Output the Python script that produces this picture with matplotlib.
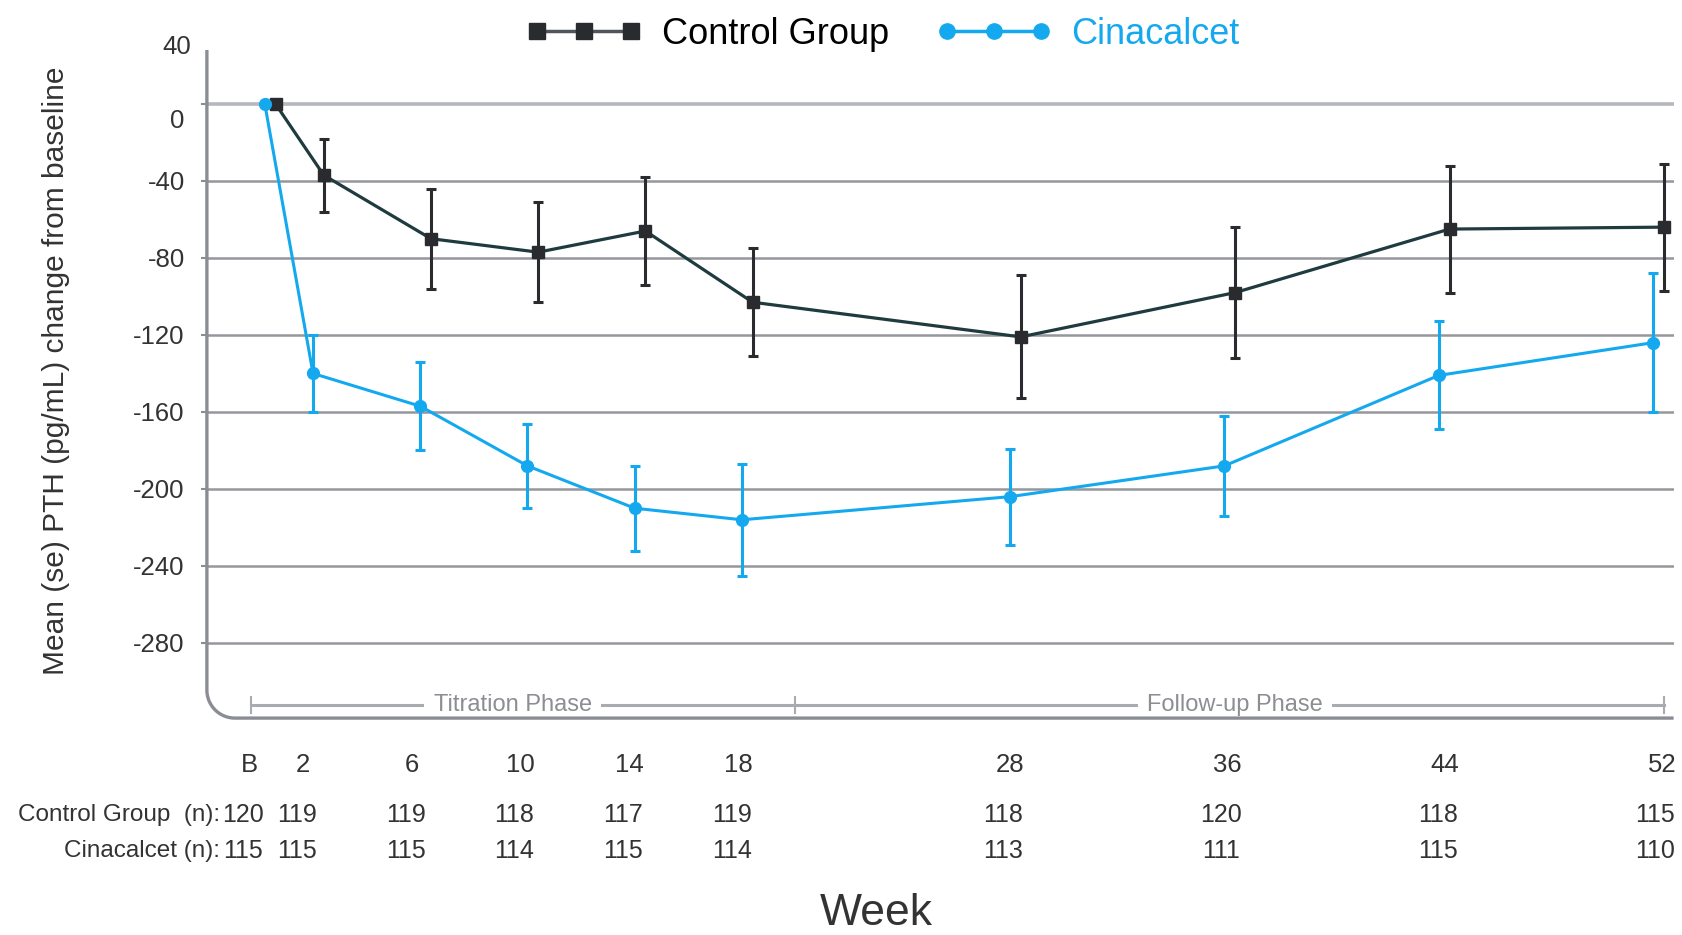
import numpy as np
import matplotlib
matplotlib.use("Agg")
import matplotlib.pyplot as plt
import matplotlib.transforms as mtransforms
from matplotlib.lines import Line2D

plt.rcParams['font.family'] = ['Liberation Sans Narrow', 'Liberation Sans', 'DejaVu Sans']

# ---------------- data ----------------
weeks = [0, 2, 6, 10, 14, 18, 28, 36, 44, 52]
week_labels = ["B", "2", "6", "10", "14", "18", "28", "36", "44", "52"]
control_mean = [0, -37, -70, -77, -66, -103, -121, -98, -65, -64]
control_se = [0, 19, 26, 26, 28, 28, 32, 34, 33, 33]
cina_mean = [0, -140, -157, -188, -210, -216, -204, -188, -141, -124]
cina_se = [0, 20, 23, 22, 22, 29, 25, 26, 28, 36]
control_n = [120, 119, 119, 118, 117, 119, 118, 120, 118, 115]
cina_n = [115, 115, 115, 114, 115, 114, 113, 111, 115, 110]
yticks = [0, -40, -80, -120, -160, -200, -240, -280]

CTRL_LINE = "#1f3b3f"
CTRL_MARK = "#2a2b2e"
CINA = "#14a9ef"
GRID = "#95979c"
SPINE = "#8a8d93"
TXT = "#333333"

fig = plt.figure(figsize=(16.82, 9.35), dpi=100)
ax = fig.add_axes([0.123, 0.232, 0.872, 0.7145])

wk = np.array(weeks, dtype=float)
x_ctrl = np.where(wk == 0, 0.2, wk)
x_cina = x_ctrl - 0.4

ax.set_xlim(-2.36, 52.36)
ax.set_ylim(-319, 28)

# grid lines
for v in yticks:
    ax.axhline(v, color="#b5b8bc" if v == 0 else GRID,
               lw=2.6 if v == 0 else 1.8, zorder=1)

# series
ax.errorbar(x_ctrl[1:], np.array(control_mean[1:]), yerr=np.array(control_se[1:]),
            fmt="none", ecolor=CTRL_MARK, elinewidth=2.2, capsize=3.5, capthick=2.2, zorder=3)
ax.plot(x_ctrl, control_mean, color=CTRL_LINE, lw=2.3, marker="s", ms=9,
        mfc=CTRL_MARK, mec=CTRL_MARK, zorder=4)
ax.errorbar(x_cina[1:], np.array(cina_mean[1:]), yerr=np.array(cina_se[1:]),
            fmt="none", ecolor=CINA, elinewidth=2.2, capsize=3.5, capthick=2.2, zorder=3)
ax.plot(x_cina, cina_mean, color=CINA, lw=2.2, marker="o", ms=8.5,
        mfc=CINA, mec=CINA, zorder=5)

# spines: custom rounded corner
for s in ax.spines.values():
    s.set_visible(False)
W_px, H_px = 0.872 * 1682, 0.7145 * 935
r = 28
rx, ry = r / W_px, r / H_px
t = np.linspace(np.pi, 1.5 * np.pi, 30)
arc_x = rx + rx * np.cos(t)
arc_y = ry + ry * np.sin(t)
px = np.concatenate([[0, 0], arc_x, [rx, 1.0]])
py = np.concatenate([[1, ry], arc_y, [0, 0]])
ax.plot(px, py, transform=ax.transAxes, color=SPINE, lw=2.4, clip_on=False,
        solid_capstyle="butt", zorder=6)

# y ticks
ax.set_yticks(yticks)
ax.set_yticklabels([str(v) for v in yticks])
ax.tick_params(axis="y", length=4, width=1.5, color=SPINE, pad=12,
               labelsize=18.5, labelcolor=TXT)
ax.set_xticks([])
for lab in ax.get_yticklabels():
    if lab.get_text() == "0":
        lab.set_transform(lab.get_transform() +
                          mtransforms.ScaledTranslation(0, -15 / 100, fig.dpi_scale_trans))
ax.text(-0.011, 1.0 + 3 / H_px, "40", transform=ax.transAxes, ha="right", va="center",
        fontsize=18.5, color=TXT)

ax.set_ylabel("Mean (se) PTH (pg/mL) change from baseline", fontsize=21.5, color=TXT)
ax.yaxis.set_label_coords(-0.093, 0.52)

# phase line
tb = mtransforms.blended_transform_factory(ax.transData, ax.transAxes)
py_ph = 13 / H_px
PH = "#a9abb0"
ax.plot([-0.72, 52.0], [py_ph, py_ph], transform=tb, color=PH, lw=2.2, clip_on=False, zorder=2)
for xv in (-0.72, 19.57, 52.0):
    ax.plot([xv, xv], [py_ph - 8 / H_px, py_ph + 8 / H_px], transform=tb, color=PH,
            lw=1.5, clip_on=False, zorder=2)
for xc, s in ((9.05, "Titration Phase"), (36.0, "Follow-up Phase")):
    ax.text(xc, py_ph, s, transform=tb, ha="center", va="center", fontsize=17,
            color="#8c8e93", zorder=3,
            bbox=dict(fc="white", ec="none", boxstyle="square,pad=0.4"))

# week labels and n table
tf = mtransforms.blended_transform_factory(ax.transData, fig.transFigure)
lab_x = 2 + (283 - 302 + (wk - 2) * 25.32) / 24.98
for xl, s in zip(lab_x, week_labels):
    ax.text(xl, 0.182, s, transform=tf, ha="center", va="center", fontsize=18.5,
            color=TXT, clip_on=False)
for xl, n1, n2 in zip(lab_x - 0.24, control_n, cina_n):
    ax.text(xl, 0.128, str(n1), transform=tf, ha="center", va="center", fontsize=18,
            color=TXT, clip_on=False)
    ax.text(xl, 0.090, str(n2), transform=tf, ha="center", va="center", fontsize=18,
            color=TXT, clip_on=False)
fig.text(220 / 1682, 0.128, "Control Group  (n):", ha="right", va="center",
         fontsize=17.5, color=TXT)
fig.text(220 / 1682, 0.090, "Cinacalcet (n):", ha="right", va="center",
         fontsize=17.5, color=TXT)

fig.text(0.521, 0.0225, "Week", ha="center", va="center", fontsize=32, color=TXT)

# legend
h1 = Line2D([], [], color="#50555b", lw=2.5, marker="s", ms=11, mfc=CTRL_MARK, mec=CTRL_MARK)
h2 = Line2D([], [], color=CINA, lw=2.5, marker="o", ms=11, mfc=CINA, mec=CINA)
leg = fig.legend([h1, h2], ["Control Group", "Cinacalcet"], ncol=2, numpoints=3,
                 loc="center", bbox_to_anchor=(0.525, 0.9635), frameon=False,
                 fontsize=26, handlelength=3.2, handletextpad=0.55, columnspacing=1.3)
leg.get_texts()[0].set_color("black")
leg.get_texts()[1].set_color(CINA)

fig.savefig("out.png", dpi=100)
